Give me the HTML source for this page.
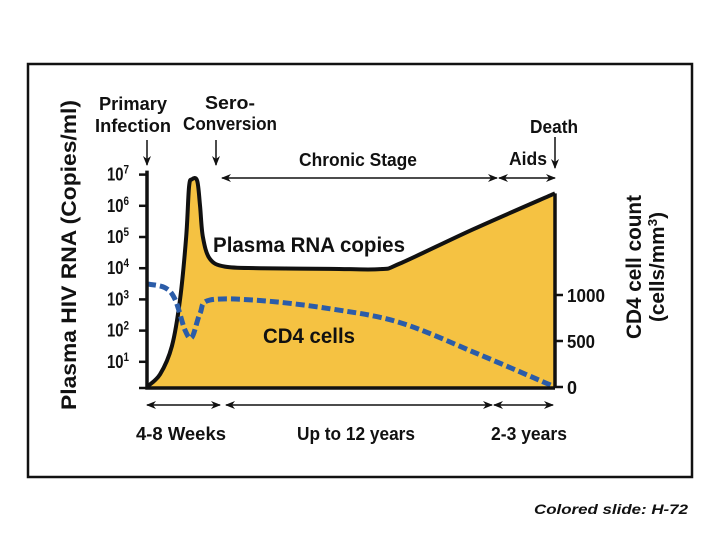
<!DOCTYPE html>
<html><head><meta charset="utf-8"><style>
html,body{margin:0;padding:0;background:#fff;width:720px;height:540px;overflow:hidden}
svg{display:block}
text{font-family:"Liberation Sans",sans-serif;font-weight:bold;fill:#111}
</style></head><body>
<svg id="chart" width="720" height="540" viewBox="0 0 720 540">
<defs><marker id="ah" markerWidth="10" markerHeight="8" refX="9" refY="4" orient="auto-start-reverse" markerUnits="userSpaceOnUse"><path d="M0,0 L10,4 L0,8 L3,4 Z" fill="#111"/></marker></defs>
<rect x="28" y="64" width="664" height="413" fill="#fff" stroke="#111" stroke-width="2.5"/>
<g id="marks"></g>
<text transform="translate(76,255) rotate(-90)" text-anchor="middle" font-size="21" textLength="310" lengthAdjust="spacingAndGlyphs">Plasma HIV RNA (Copies/ml)</text>
<text transform="translate(641,267) rotate(-90)" text-anchor="middle" font-size="21" textLength="144" lengthAdjust="spacingAndGlyphs">CD4 cell count</text>
<text transform="translate(664,267) rotate(-90)" text-anchor="middle" font-size="20" font-weight="normal" textLength="110" lengthAdjust="spacingAndGlyphs">(cells/mm<tspan font-size="13" dy="-7">3</tspan><tspan dy="7">)</tspan></text>
<text x="133" y="110" text-anchor="middle" font-size="18" textLength="68" lengthAdjust="spacingAndGlyphs">Primary</text>
<text x="133" y="132" text-anchor="middle" font-size="18" textLength="76" lengthAdjust="spacingAndGlyphs">Infection</text>
<text x="230" y="109" text-anchor="middle" font-size="18" textLength="50" lengthAdjust="spacingAndGlyphs">Sero-</text>
<text x="230" y="130" text-anchor="middle" font-size="18" textLength="94" lengthAdjust="spacingAndGlyphs">Conversion</text>
<text x="554" y="133" text-anchor="middle" font-size="18" textLength="48" lengthAdjust="spacingAndGlyphs">Death</text>
<text x="358" y="166" text-anchor="middle" font-size="18" textLength="118" lengthAdjust="spacingAndGlyphs">Chronic Stage</text>
<text x="528" y="165" text-anchor="middle" font-size="18" textLength="38" lengthAdjust="spacingAndGlyphs">Aids</text>
<text x="181" y="440" text-anchor="middle" font-size="18" textLength="90" lengthAdjust="spacingAndGlyphs">4-8 Weeks</text>
<text x="356" y="440" text-anchor="middle" font-size="18" textLength="118" lengthAdjust="spacingAndGlyphs">Up to 12 years</text>
<text x="529" y="440" text-anchor="middle" font-size="18" textLength="76" lengthAdjust="spacingAndGlyphs">2-3 years</text>
<text x="534" y="514" font-size="14" font-weight="normal" font-style="italic" textLength="154" lengthAdjust="spacingAndGlyphs">Colored slide: H-72</text>
</svg>
<script>
const rnaTime=[0,3.2,6.1,8.1,9.6,10.3,11,12.3,13,13.7,15.4,19.1,27.7,45,57.1,62,80,100];
const rnaLog=[0.2,0.6,1.5,3,5,6.6,6.85,6.8,6,5,4.3,4.05,4.0,3.98,3.97,4.15,5.25,6.4];
const cd4Time=[0,4.4,6.9,9.3,11,13,15.4,27.7,44.9,62,81.6,100];
const cd4Values=[1120,1080,950,620,540,800,945,940,850,700,350,0];
const leftTicks=["10","10","10","10","10","10","10"];
const leftExp=[7,6,5,4,3,2,1];
const rightTicks=[1000,500,0];
const NS="http://www.w3.org/2000/svg";
const X=t=>147+t*4.08;
const YL=l=>393-31.2*l;
const YR=v=>387-0.092*v;
const g=document.getElementById('marks');
function el(n,a){const e=document.createElementNS(NS,n);for(const k in a)e.setAttribute(k,a[k]);return e;}
function smooth(p){let d="M"+p[0][0]+","+p[0][1];for(let i=0;i<p.length-1;i++){const p0=p[Math.max(i-1,0)],p1=p[i],p2=p[i+1],p3=p[Math.min(i+2,p.length-1)];const c1=[p1[0]+(p2[0]-p0[0])/6,p1[1]+(p2[1]-p0[1])/6],c2=[p2[0]-(p3[0]-p1[0])/6,p2[1]-(p3[1]-p1[1])/6];d+=" C"+c1.join(",")+" "+c2.join(",")+" "+p2.join(",");}return d;}
const rp=rnaTime.map((t,i)=>[X(t),YL(rnaLog[i])]);
const line=smooth(rp);
const area=el('path',{d:line+" L"+X(100)+","+YL(0.2)+" Z",fill:"#F5C242",stroke:"none"});


g.appendChild(area);
const rl=el('path',{d:line,fill:"none",stroke:"#111","stroke-width":4,"stroke-linejoin":"round"});


g.appendChild(rl);
const cp=cd4Time.map((t,i)=>[X(t),YR(cd4Values[i])]);
const cl=el('path',{d:smooth(cp),fill:"none",stroke:"#2B5CA8","stroke-width":5,"stroke-dasharray":"9 4"});


g.appendChild(cl);
const ax=el('path',{d:`M147,${YL(7)-4} L147,388 L555,388 M555,${YL(6.4)} L555,388`,stroke:"#111","stroke-width":3.5,fill:"none"});


g.appendChild(ax);
leftExp.forEach((e,i)=>{const y=YL(e);
const tk=el('line',{x1:139,x2:147,y1:y,y2:y,stroke:"#111","stroke-width":2.5});


g.appendChild(tk);
const t=el('text',{x:107,y:y+6,"font-size":18,textLength:22,lengthAdjust:"spacingAndGlyphs"});t.textContent=leftTicks[i];
const s=el('tspan',{"font-size":12,dy:-7});s.textContent=e;t.appendChild(s);


g.appendChild(t);});
const b=el('line',{x1:139,x2:147,y1:388,y2:388,stroke:"#111","stroke-width":2.5});


g.appendChild(b);
rightTicks.forEach(v=>{const y=YR(v);
const tk=el('line',{x1:555,x2:563,y1:y,y2:y,stroke:"#111","stroke-width":2.5});


g.appendChild(tk);
const t=el('text',{x:567,y:y+7,"font-size":18});t.textContent=v;
if(v>=500)t.setAttribute('textLength',v==1000?38:28),t.setAttribute('lengthAdjust','spacingAndGlyphs');


g.appendChild(t);});
const arrows=[[147,140,147,165,0],[216,140,216,165,0],[555,137,555,168,0],[222,178,497,178,1],[499,178,555,178,1],[147,405,220,405,1],[226,405,492,405,1],[494,405,553,405,1]];
arrows.forEach(a=>{const l=el('line',{x1:a[0],y1:a[1],x2:a[2],y2:a[3],stroke:"#111","stroke-width":1.5,"marker-end":"url(#ah)"});if(a[4])l.setAttribute('marker-start','url(#ah)');


g.appendChild(l);});
const t1=el('text',{x:213,y:252,"font-size":21,textLength:192,lengthAdjust:"spacingAndGlyphs"});t1.textContent="Plasma RNA copies";


g.appendChild(t1);
const t2=el('text',{x:263,y:343,"font-size":21,textLength:92,lengthAdjust:"spacingAndGlyphs"});t2.textContent="CD4 cells";


g.appendChild(t2);
</script>
</body></html>
